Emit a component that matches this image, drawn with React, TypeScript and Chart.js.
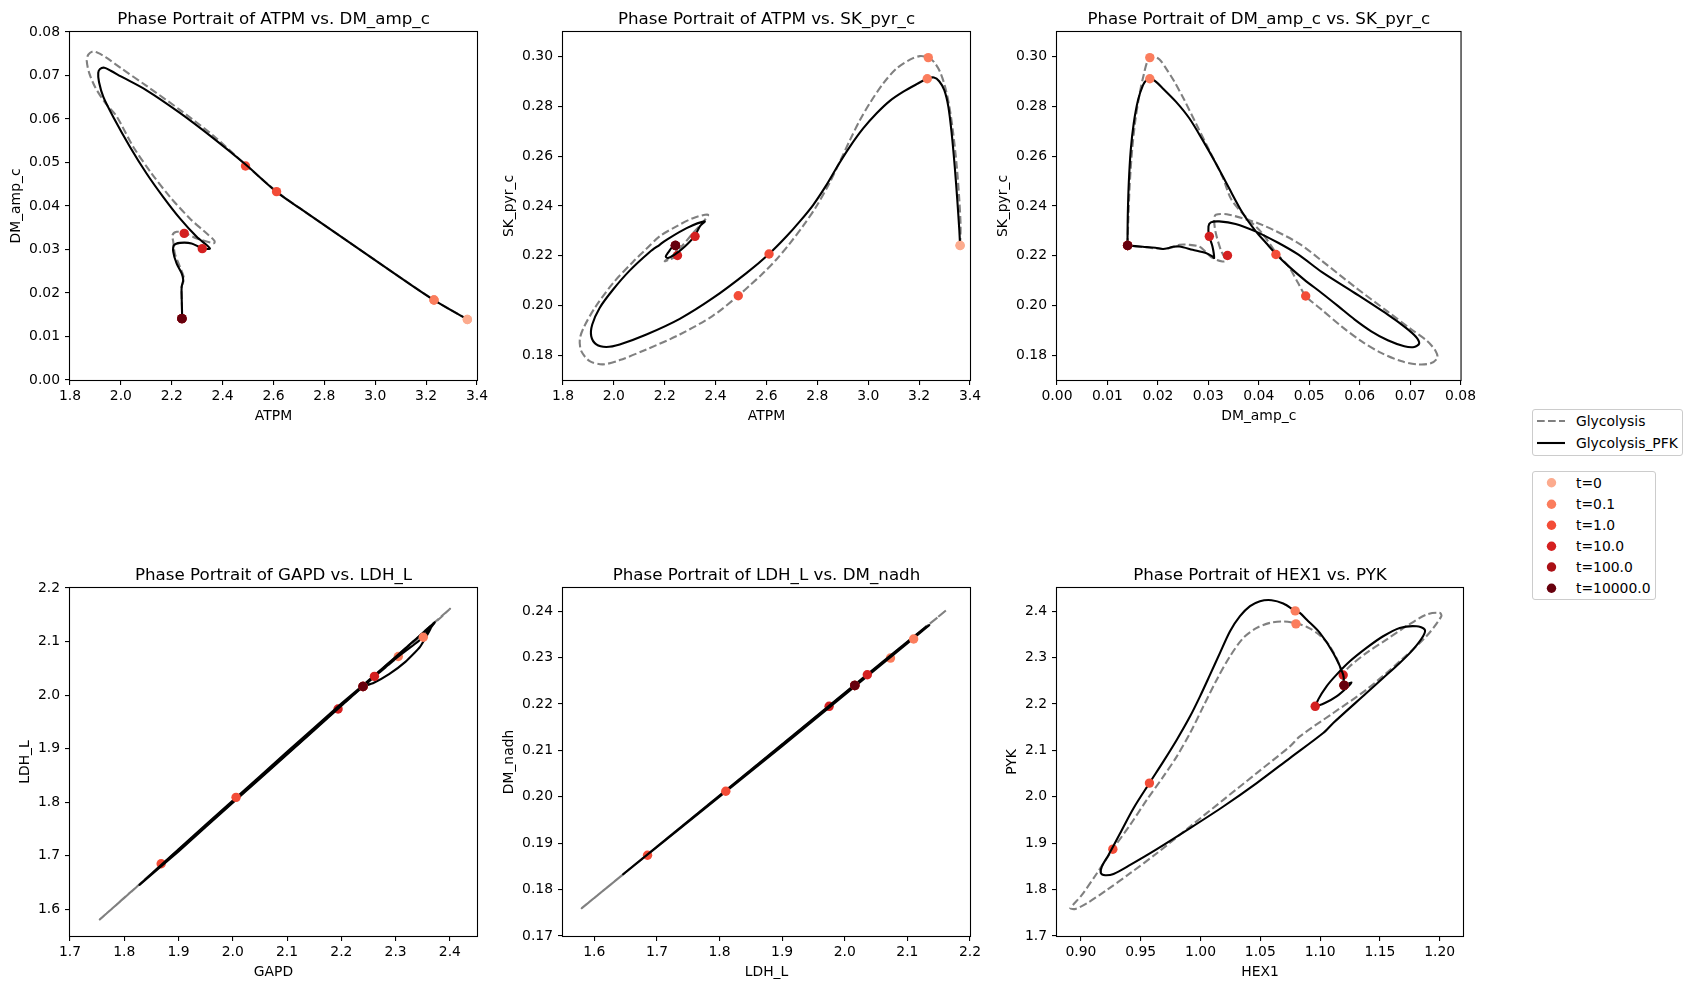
import React, { useEffect, useRef } from "react";
import { Chart, registerables } from "chart.js";

Chart.register(...registerables);

type Pt = [number, number];

const FONT = "'DejaVu Sans', 'Liberation Sans', Arial, sans-serif";

// ---------- shared legend data ----------
const timeLabels = ["t=0", "t=0.1", "t=1.0", "t=10.0", "t=100.0", "t=10000.0"];
const timeColors = ["#fcab8e", "#fb7d5d", "#f34c37", "#d42020", "#aa1016", "#67000d"];
const modelLabels = ["Glycolysis", "Glycolysis_PFK"];

// ---------- Panel 1 : ATPM vs DM_amp_c ----------
const p1Gly: Pt[] = [
  [3.362, 0.01393], [3.231, 0.01837], [3.096, 0.02366], [2.965, 0.02894], [2.834, 0.03422],
  [2.703, 0.0395], [2.612, 0.04335], [2.49, 0.0495], [2.363, 0.0562], [2.232, 0.0621],
  [2.101, 0.0676], [2.0, 0.0717], [1.94, 0.0742], [1.91, 0.0752], [1.89, 0.07556],
  [1.872, 0.0748], [1.866, 0.0733], [1.876, 0.0705], [1.9, 0.0672], [1.94, 0.0636],
  [1.983, 0.06063], [2.049, 0.05358], [2.121, 0.04747], [2.193, 0.0421], [2.271, 0.03714],
  [2.33, 0.03406], [2.368, 0.032], [2.366, 0.03145], [2.298, 0.03254], [2.249, 0.03383],
  [2.219, 0.03406], [2.203, 0.0333], [2.206, 0.03176], [2.212, 0.0291], [2.232, 0.026],
  [2.248, 0.02336], [2.239, 0.02143], [2.239, 0.01913], [2.24, 0.01683], [2.241, 0.01417],
];
const p1Pfk: Pt[] = [
  [3.362, 0.01393], [3.231, 0.01837], [3.096, 0.02366], [2.965, 0.02894], [2.834, 0.03422],
  [2.703, 0.0395], [2.612, 0.04325], [2.487, 0.0497], [2.363, 0.0556], [2.232, 0.0614],
  [2.101, 0.0666], [2.0, 0.0698], [1.96, 0.0711], [1.935, 0.0718], [1.918, 0.0715],
  [1.911, 0.0706], [1.914, 0.0685], [1.931, 0.06507], [1.97, 0.06047], [2.036, 0.05358],
  [2.101, 0.04747], [2.166, 0.0421], [2.232, 0.03714], [2.298, 0.03291], [2.35, 0.03025],
  [2.32, 0.03025], [2.278, 0.0314], [2.232, 0.03153], [2.209, 0.031], [2.206, 0.02947],
  [2.219, 0.0268], [2.239, 0.0245], [2.245, 0.02297], [2.239, 0.02143], [2.239, 0.01913],
  [2.24, 0.01683], [2.241, 0.01417],
];
const p1GlyDots: Pt[] = [[3.362, 0.0139], [3.231, 0.0184], [2.49, 0.0492], [2.249, 0.0337], [2.24, 0.0141], [2.24, 0.0141]];
const p1PfkDots: Pt[] = [[3.362, 0.0139], [3.231, 0.0184], [2.612, 0.0433], [2.32, 0.0302], [2.24, 0.0141], [2.24, 0.0141]];
const p1XTicks = [1.8, 2.0, 2.2, 2.4, 2.6, 2.8, 3.0, 3.2, 3.4];
const p1YTicks = [0, 0.01, 0.02, 0.03, 0.04, 0.05, 0.06, 0.07, 0.08];

// ---------- Panel 2 : ATPM vs SK_pyr_c ----------
const p2Gly: Pt[] = [
  [3.361, 0.2241], [3.363, 0.2318], [3.358, 0.2425], [3.348, 0.2559], [3.334, 0.2692],
  [3.319, 0.2799], [3.302, 0.288], [3.282, 0.294], [3.258, 0.298], [3.236, 0.2997],
  [3.203, 0.3003], [3.164, 0.2989], [3.111, 0.2953], [3.059, 0.2893], [3.007, 0.2815],
  [2.967, 0.2745], [2.928, 0.2665], [2.889, 0.258], [2.849, 0.2495], [2.797, 0.24],
  [2.744, 0.232], [2.692, 0.225], [2.639, 0.2185], [2.587, 0.213], [2.534, 0.208],
  [2.489, 0.2039], [2.39, 0.1959], [2.259, 0.1883], [2.128, 0.1823], [2.023, 0.178],
  [1.957, 0.1763], [1.905, 0.1776], [1.872, 0.1816], [1.866, 0.1863], [1.881, 0.191],
  [1.925, 0.199], [1.997, 0.209], [2.075, 0.2175], [2.128, 0.2228], [2.18, 0.2278],
  [2.246, 0.2318], [2.311, 0.2351], [2.37, 0.2365], [2.35, 0.2335], [2.311, 0.2291],
  [2.266, 0.2237], [2.23, 0.22], [2.2, 0.2178], [2.215, 0.2183], [2.25, 0.2201],
  [2.246, 0.2225], [2.242, 0.2241],
];
const p2Pfk: Pt[] = [
  [3.361, 0.2241], [3.358, 0.2304], [3.35, 0.2425], [3.34, 0.2559], [3.328, 0.2692],
  [3.315, 0.2799], [3.299, 0.2866], [3.279, 0.2902], [3.258, 0.2917], [3.232, 0.2912],
  [3.19, 0.289], [3.138, 0.286], [3.085, 0.2823], [3.033, 0.2773], [2.98, 0.2712],
  [2.928, 0.2639], [2.882, 0.2565], [2.836, 0.2485], [2.784, 0.2405], [2.731, 0.2338],
  [2.679, 0.2278], [2.61, 0.2207], [2.521, 0.213], [2.39, 0.203], [2.259, 0.1946],
  [2.128, 0.1883], [2.023, 0.1843], [1.97, 0.1833], [1.931, 0.1843], [1.911, 0.1876],
  [1.915, 0.1923], [1.944, 0.199], [1.997, 0.2064], [2.062, 0.214], [2.141, 0.2215],
  [2.18, 0.2244], [2.207, 0.2264], [2.286, 0.2311], [2.357, 0.2338], [2.338, 0.2318],
  [2.318, 0.228], [2.279, 0.2237], [2.239, 0.2204], [2.213, 0.2191], [2.204, 0.2196],
  [2.215, 0.2215], [2.23, 0.2235], [2.242, 0.2241],
];
const p2GlyDots: Pt[] = [[3.361, 0.2241], [3.236, 0.2997], [2.489, 0.2039], [2.25, 0.2201], [2.242, 0.2241], [2.242, 0.2241]];
const p2PfkDots: Pt[] = [[3.361, 0.2241], [3.232, 0.2912], [2.61, 0.2207], [2.319, 0.2278], [2.242, 0.2241], [2.242, 0.2241]];
const p2XTicks = [1.8, 2.0, 2.2, 2.4, 2.6, 2.8, 3.0, 3.2, 3.4];
const p2YTicks = [0.18, 0.2, 0.22, 0.24, 0.26, 0.28, 0.3];

// ---------- Panel 3 : DM_amp_c vs SK_pyr_c ----------
const p3Gly: Pt[] = [
  [0.01397, 0.2241], [0.01416, 0.2358], [0.01443, 0.2492], [0.01489, 0.2625], [0.01554, 0.2746],
  [0.01639, 0.2853], [0.01725, 0.2933], [0.01803, 0.2987], [0.01902, 0.3003], [0.02033, 0.2989],
  [0.02164, 0.2953], [0.02328, 0.29], [0.02525, 0.2826], [0.02754, 0.2732], [0.03016, 0.2625],
  [0.03279, 0.2518], [0.0346, 0.2425], [0.0375, 0.2355], [0.04066, 0.2291], [0.0435, 0.221],
  [0.0459, 0.2157], [0.0478, 0.209], [0.0493, 0.2038], [0.05246, 0.1983], [0.05639, 0.1916],
  [0.06033, 0.1856], [0.06426, 0.1809], [0.0682, 0.1776], [0.07148, 0.1763], [0.0741, 0.1767],
  [0.07541, 0.1789], [0.07508, 0.1816], [0.07344, 0.1856], [0.07016, 0.1905], [0.06557, 0.1975],
  [0.05902, 0.2075], [0.05246, 0.218], [0.0479, 0.225], [0.04066, 0.2324], [0.0341, 0.2365],
  [0.03148, 0.2365], [0.03115, 0.2344], [0.03148, 0.2291], [0.03246, 0.2224], [0.03344, 0.218],
  [0.03279, 0.2177], [0.03082, 0.2191], [0.0295, 0.2215], [0.0282, 0.2237], [0.0262, 0.2244],
  [0.02427, 0.2244], [0.0225, 0.2232], [0.02098, 0.2227], [0.01836, 0.2232], [0.016, 0.2237],
  [0.01397, 0.2241],
];
const p3Pfk: Pt[] = [
  [0.01397, 0.2241], [0.01403, 0.2358], [0.01423, 0.2492], [0.01462, 0.2625], [0.01521, 0.2732],
  [0.01607, 0.2826], [0.01705, 0.2886], [0.01784, 0.2909], [0.01836, 0.2912], [0.01934, 0.2904],
  [0.02098, 0.2873], [0.02361, 0.2819], [0.02623, 0.2753], [0.02885, 0.2666], [0.03148, 0.2572],
  [0.0341, 0.2472], [0.03672, 0.2375], [0.03934, 0.23], [0.0415, 0.225], [0.04335, 0.2208],
  [0.046, 0.2156], [0.049, 0.2104], [0.05246, 0.205], [0.05574, 0.1997], [0.05902, 0.1943],
  [0.0623, 0.1896], [0.06557, 0.186], [0.06885, 0.1836], [0.07082, 0.1833], [0.0718, 0.1847],
  [0.07115, 0.1874], [0.06918, 0.191], [0.06557, 0.1963], [0.05902, 0.205], [0.05246, 0.2135],
  [0.04787, 0.2204], [0.04393, 0.2251], [0.03934, 0.2298], [0.03541, 0.2328], [0.03213, 0.2338],
  [0.0305, 0.2334], [0.03003, 0.2318], [0.03016, 0.228], [0.03082, 0.2237], [0.03115, 0.2191],
  [0.03082, 0.2197], [0.02951, 0.2211], [0.02689, 0.2224], [0.02427, 0.2237], [0.023, 0.2236],
  [0.022, 0.223], [0.021, 0.2227], [0.0195, 0.2232], [0.017, 0.2236], [0.01397, 0.2241],
];
const p3GlyDots: Pt[] = [[0.014, 0.2241], [0.0184, 0.2997], [0.0493, 0.2038], [0.0338, 0.2201], [0.014, 0.2241], [0.014, 0.2241]];
const p3PfkDots: Pt[] = [[0.014, 0.2241], [0.0184, 0.2912], [0.0434, 0.2205], [0.0302, 0.2278], [0.014, 0.2241], [0.014, 0.2241]];
const p3XTicks = [0, 0.01, 0.02, 0.03, 0.04, 0.05, 0.06, 0.07, 0.08];
const p3YTicks = [0.18, 0.2, 0.22, 0.24, 0.26, 0.28, 0.3];

// ---------- Panel 4 : GAPD vs LDH_L ----------
const p4Gly: Pt[] = [
  [2.24, 2.016], [2.305, 2.072], [2.4, 2.161], [2.1, 1.891], [1.755, 1.581], [2.0, 1.8], [2.24, 2.016],
];
const p4Pfk: Pt[] = [
  [2.24, 2.016], [2.3, 2.068], [2.351, 2.108], [2.372, 2.136], [2.3, 2.07], [2.2, 1.98],
  [2.1, 1.889], [2.0, 1.799], [1.9, 1.708], [1.828, 1.6455], [1.9, 1.712], [2.0, 1.803],
  [2.1, 1.894], [2.2, 1.984], [2.261, 2.037], [2.33, 2.098], [2.366, 2.128], [2.345, 2.09],
  [2.318, 2.062], [2.288, 2.039], [2.26, 2.023], [2.24, 2.016],
];
const p4GlyDots: Pt[] = [[2.24, 2.016], [2.305, 2.072], [1.868, 1.685], [2.194, 1.974], [2.24, 2.016], [2.24, 2.016]];
const p4PfkDots: Pt[] = [[2.24, 2.016], [2.351, 2.108], [2.006, 1.809], [2.261, 2.035], [2.24, 2.016], [2.24, 2.016]];
const p4XTicks = [1.7, 1.8, 1.9, 2.0, 2.1, 2.2, 2.3, 2.4];
const p4YTicks = [1.6, 1.7, 1.8, 1.9, 2.0, 2.1, 2.2];

// ---------- Panel 5 : LDH_L vs DM_nadh ----------
const p5Gly: Pt[] = [
  [2.016, 0.224], [2.162, 0.2402], [1.58, 0.176], [1.975, 0.2195], [2.016, 0.224],
];
const p5Pfk: Pt[] = [
  [2.016, 0.224], [2.073, 0.2301], [2.11, 0.2342], [2.135, 0.237], [1.9, 0.2109], [1.646, 0.1833],
  [1.9, 0.2113], [2.036, 0.2264], [2.13, 0.2367], [2.05, 0.2277], [2.016, 0.224],
];
const p5GlyDots: Pt[] = [[2.016, 0.224], [2.073, 0.2299], [1.685, 0.1874], [1.975, 0.2195], [2.016, 0.224], [2.016, 0.224]];
const p5PfkDots: Pt[] = [[2.016, 0.224], [2.11, 0.234], [1.81, 0.2012], [2.036, 0.2263], [2.016, 0.224], [2.016, 0.224]];
const p5XTicks = [1.6, 1.7, 1.8, 1.9, 2.0, 2.1, 2.2];
const p5YTicks = [0.17, 0.18, 0.19, 0.2, 0.21, 0.22, 0.23, 0.24];

// ---------- Panel 6 : HEX1 vs PYK ----------
const p6Gly: Pt[] = [
  [1.1201, 2.2402], [1.116, 2.285], [1.108, 2.325], [1.099, 2.35], [1.089, 2.366], [1.0798, 2.374],
  [1.0692, 2.3777], [1.0581, 2.3748], [1.047, 2.364], [1.0358, 2.3424], [1.0247, 2.3029],
  [1.0136, 2.2525], [1.0024, 2.195], [0.9913, 2.1374], [0.9802, 2.0871], [0.969, 2.0439],
  [0.9551, 1.9935], [0.9412, 1.9396], [0.9267, 1.8871], [0.9134, 1.8353], [0.9008, 1.7885],
  [0.8933, 1.7669], [0.8911, 1.7597], [0.8953, 1.7583], [0.905, 1.7705], [0.9217, 1.7993],
  [0.9412, 1.8353], [0.9635, 1.8784], [0.9913, 1.936], [1.0191, 1.9935], [1.047, 2.0511],
  [1.0748, 2.1086], [1.0831, 2.1302], [1.111, 2.1806], [1.1388, 2.231], [1.1666, 2.292],
  [1.1889, 2.346], [1.2014, 2.389], [1.2, 2.3964], [1.1889, 2.3928], [1.1722, 2.3676],
  [1.1555, 2.3388], [1.1388, 2.3101], [1.1249, 2.2813], [1.1193, 2.2633], [1.1201, 2.2402],
];
const p6Pfk: Pt[] = [
  [1.1201, 2.2402], [1.1193, 2.2633], [1.111, 2.3101], [1.0998, 2.3532], [1.0887, 2.382],
  [1.0831, 2.3964], [1.0792, 2.4007], [1.0692, 2.4165], [1.0595, 2.4237], [1.0497, 2.4216],
  [1.0414, 2.4108], [1.033, 2.3892], [1.0247, 2.3568], [1.0163, 2.3101], [1.008, 2.2633],
  [0.9996, 2.2165], [0.9913, 2.1734], [0.9802, 2.123], [0.969, 2.0763], [0.9573, 2.0295],
  [0.944, 1.9755], [0.9328, 1.9216], [0.9231, 1.8748], [0.9175, 1.8496], [0.9167, 1.8353],
  [0.9203, 1.8309], [0.9273, 1.8338], [0.9412, 1.8532], [0.9635, 1.8871], [0.9913, 1.9324],
  [1.0191, 1.9791], [1.047, 2.0295], [1.0748, 2.0835], [1.1026, 2.1374], [1.111, 2.159],
  [1.1388, 2.2237], [1.1527, 2.2561], [1.1666, 2.2885], [1.1777, 2.3173], [1.1861, 2.346],
  [1.1875, 2.3604], [1.1806, 2.3676], [1.1666, 2.364], [1.1527, 2.346], [1.1388, 2.3209],
  [1.1249, 2.292], [1.1138, 2.2633], [1.1054, 2.2381], [1.0984, 2.2094], [1.097, 2.1964],
  [1.104, 2.2021], [1.1138, 2.2165], [1.1221, 2.2345], [1.1263, 2.2467], [1.1201, 2.2402],
];
const p6GlyDots: Pt[] = [[1.1201, 2.2402], [1.0798, 2.3727], [0.9267, 1.8871], [1.1193, 2.2626], [1.1201, 2.2402], [1.1201, 2.2402]];
const p6PfkDots: Pt[] = [[1.1201, 2.2402], [1.0792, 2.4007], [0.9573, 2.0295], [1.0959, 2.195], [1.1201, 2.2402], [1.1201, 2.2402]];
const p6XTicks = [0.9, 0.95, 1.0, 1.05, 1.1, 1.15, 1.2];
const p6YTicks = [1.7, 1.8, 1.9, 2.0, 2.1, 2.2, 2.3, 2.4];

// ---------- layout ----------
const AXIS_W = 75;
const TOP_H = 32;
const BOTTOM_H = 48;
const RIGHT_PAD = 16;

interface PanelSpec {
  title: string; xLabel: string; yLabel: string;
  xMin: number; xMax: number; yMin: number; yMax: number;
  xTicks: number[]; yTicks: number[]; xDec: number; yDec: number;
  gly: Pt[]; pfk: Pt[]; glyDots: Pt[]; pfkDots: Pt[];
  tension: number;
  left: number; top: number; width: number; height: number; yTitleGap: number;
}

const panels: PanelSpec[] = [
  { title: "Phase Portrait of ATPM vs. DM_amp_c", xLabel: "ATPM", yLabel: "DM_amp_c",
    xMin: 1.8, xMax: 3.4, yMin: 0, yMax: 0.08, xTicks: p1XTicks, yTicks: p1YTicks, xDec: 1, yDec: 2,
    gly: p1Gly, pfk: p1Pfk, glyDots: p1GlyDots, pfkDots: p1PfkDots, tension: 0.3,
    left: 70, top: 32, width: 407, height: 348, yTitleGap: 53.5 },
  { title: "Phase Portrait of ATPM vs. SK_pyr_c", xLabel: "ATPM", yLabel: "SK_pyr_c",
    xMin: 1.8, xMax: 3.4, yMin: 0.17, yMax: 0.31, xTicks: p2XTicks, yTicks: p2YTicks, xDec: 1, yDec: 2,
    gly: p2Gly, pfk: p2Pfk, glyDots: p2GlyDots, pfkDots: p2PfkDots, tension: 0.3,
    left: 563, top: 32, width: 407, height: 348, yTitleGap: 54 },
  { title: "Phase Portrait of DM_amp_c vs. SK_pyr_c", xLabel: "DM_amp_c", yLabel: "SK_pyr_c",
    xMin: 0, xMax: 0.08, yMin: 0.17, yMax: 0.31, xTicks: p3XTicks, yTicks: p3YTicks, xDec: 2, yDec: 2,
    gly: p3Gly, pfk: p3Pfk, glyDots: p3GlyDots, pfkDots: p3PfkDots, tension: 0.3,
    left: 1057, top: 32, width: 406, height: 348, yTitleGap: 54 },
  { title: "Phase Portrait of GAPD vs. LDH_L", xLabel: "GAPD", yLabel: "LDH_L",
    xMin: 1.7, xMax: 2.45, yMin: 1.55, yMax: 2.2, xTicks: p4XTicks, yTicks: p4YTicks, xDec: 1, yDec: 1,
    gly: p4Gly, pfk: p4Pfk, glyDots: p4GlyDots, pfkDots: p4PfkDots, tension: 0.15,
    left: 70, top: 588, width: 407, height: 348, yTitleGap: 45 },
  { title: "Phase Portrait of LDH_L vs. DM_nadh", xLabel: "LDH_L", yLabel: "DM_nadh",
    xMin: 1.55, xMax: 2.2, yMin: 0.17, yMax: 0.245, xTicks: p5XTicks, yTicks: p5YTicks, xDec: 1, yDec: 2,
    gly: p5Gly, pfk: p5Pfk, glyDots: p5GlyDots, pfkDots: p5PfkDots, tension: 0.1,
    left: 563, top: 588, width: 407, height: 348, yTitleGap: 54 },
  { title: "Phase Portrait of HEX1 vs. PYK", xLabel: "HEX1", yLabel: "PYK",
    xMin: 0.88, xMax: 1.2195, yMin: 1.7, yMax: 2.45, xTicks: p6XTicks, yTicks: p6YTicks, xDec: 2, yDec: 1,
    gly: p6Gly, pfk: p6Pfk, glyDots: p6GlyDots, pfkDots: p6PfkDots, tension: 0.3,
    left: 1057, top: 588, width: 406, height: 348, yTitleGap: 45 },
];

const toXY = (pts: Pt[]) => pts.map(([x, y]) => ({ x, y }));

function makeScale(min: number, max: number, ticks: number[], dec: number, label: string, isX: boolean, titleGap: number) {
  return {
    type: "linear",
    position: isX ? "bottom" : "left",
    min,
    max,
    afterBuildTicks: (s: any) => {
      s.ticks = ticks.map((v) => ({ value: v }));
    },
    afterFit: (s: any) => {
      if (isX) s.height = BOTTOM_H;
      else s.width = AXIS_W;
    },
    grid: {
      display: true,
      drawOnChartArea: false,
      drawTicks: true,
      tickLength: 5,
      tickWidth: 1.1,
      tickColor: "#000",
      color: "#000",
      lineWidth: 1.1,
    },
    border: { display: false },
    ticks: {
      autoSkip: false,
      maxRotation: 0,
      minRotation: 0,
      padding: isX ? 3 : 5,
      color: "#000",
      font: { family: FONT, size: 13.9 },
      callback: (v: any) => Number(v).toFixed(dec),
    },
    title: {
      display: true,
      text: label,
      color: "#000",
      font: { family: FONT, size: 13.9 },
      padding: isX ? { top: 0, bottom: 2.9 } : { top: AXIS_W - titleGap - 8.34, bottom: 0 },
    },
  };
}

function Panel({ spec }: { spec: PanelSpec }) {
  const ref = useRef<HTMLCanvasElement | null>(null);
  const cw = spec.width + AXIS_W + RIGHT_PAD;
  const ch = spec.height + TOP_H + BOTTOM_H;

  useEffect(() => {
    const canvas = ref.current;
    if (!canvas) return;
    const decor = {
      id: "panelDecor",
      afterDraw(chart: any) {
        const { ctx, chartArea } = chart;
        ctx.save();
        ctx.strokeStyle = "#000";
        ctx.lineWidth = 1.1;
        ctx.strokeRect(
          chartArea.left - 0.5,
          chartArea.top - 0.5,
          chartArea.right - chartArea.left + 1,
          chartArea.bottom - chartArea.top + 1
        );
        ctx.fillStyle = "#000";
        ctx.font = `16.7px ${FONT}`;
        ctx.textAlign = "center";
        ctx.textBaseline = "alphabetic";
        ctx.fillText(spec.title, (chartArea.left + chartArea.right) / 2, chartArea.top - 8);
        ctx.restore();
      },
    };
    const chart = new Chart(canvas, {
      type: "scatter",
      data: {
        datasets: [
          {
            label: modelLabels[0],
            data: toXY(spec.gly),
            showLine: true,
            borderColor: "#808080",
            backgroundColor: "#808080",
            borderWidth: 2.1,
            borderDash: [7.7, 3.3],
            borderJoinStyle: "round",
            pointRadius: 0,
            pointHoverRadius: 0,
            tension: spec.tension,
            order: 4,
          },
          {
            label: modelLabels[0] + " points",
            data: toXY(spec.glyDots),
            showLine: false,
            pointRadius: 4.7,
            pointHoverRadius: 4.7,
            pointBackgroundColor: timeColors,
            pointBorderColor: timeColors,
            pointBorderWidth: 0,
            order: 3,
          },
          {
            label: modelLabels[1],
            data: toXY(spec.pfk),
            showLine: true,
            borderColor: "#000000",
            backgroundColor: "#000000",
            borderWidth: 2.1,
            borderJoinStyle: "round",
            pointRadius: 0,
            pointHoverRadius: 0,
            tension: spec.tension,
            order: 2,
          },
          {
            label: modelLabels[1] + " points",
            data: toXY(spec.pfkDots),
            showLine: false,
            pointRadius: 4.7,
            pointHoverRadius: 4.7,
            pointBackgroundColor: timeColors,
            pointBorderColor: timeColors,
            pointBorderWidth: 0,
            order: 1,
          },
        ],
      } as any,
      options: {
        animation: false,
        responsive: false,
        maintainAspectRatio: false,
        devicePixelRatio: 1,
        events: [],
        layout: { padding: { top: TOP_H, right: RIGHT_PAD, left: 0, bottom: 0 } },
        plugins: {
          legend: { display: false },
          tooltip: { enabled: false },
          title: { display: false },
        },
        scales: {
          x: makeScale(spec.xMin, spec.xMax, spec.xTicks, spec.xDec, spec.xLabel, true, 0),
          y: makeScale(spec.yMin, spec.yMax, spec.yTicks, spec.yDec, spec.yLabel, false, spec.yTitleGap),
        },
      } as any,
      plugins: [decor],
    });
    return () => chart.destroy();
  }, [spec]);

  return (
    <canvas
      ref={ref}
      width={cw}
      height={ch}
      style={{
        position: "absolute",
        left: spec.left - AXIS_W,
        top: spec.top - TOP_H,
        width: cw,
        height: ch,
      }}
    />
  );
}

function Legend() {
  const textStyle = (left: number, cy: number): React.CSSProperties => ({
    position: "absolute",
    left,
    top: cy - 8,
    lineHeight: "16px",
    fontSize: 13.9,
    fontFamily: FONT,
    color: "#000",
    whiteSpace: "nowrap",
  });
  const boxStyle = (left: number, top: number, w: number, h: number): React.CSSProperties => ({
    position: "absolute",
    left,
    top,
    width: w,
    height: h,
    border: "1px solid #cccccc",
    borderRadius: 3,
    boxSizing: "border-box",
    background: "rgba(255,255,255,0.8)",
  });
  const modelRows = [421, 443];
  const timeRows = [482.7, 504.3, 525.3, 546.2, 567, 588.3];
  return (
    <>
      <div style={boxStyle(1532, 409, 151, 47)} />
      <div style={boxStyle(1532, 471, 124, 129)} />
      <svg
        width={172}
        height={210}
        style={{ position: "absolute", left: 1520, top: 400, overflow: "visible" }}
      >
        <line x1={17} x2={45} y1={modelRows[0] - 400} y2={modelRows[0] - 400} stroke="#808080" strokeWidth={2.1} strokeDasharray="7.7 3.3" />
        <line x1={17} x2={45} y1={modelRows[1] - 400} y2={modelRows[1] - 400} stroke="#000" strokeWidth={2.1} />
        {timeRows.map((cy, i) => (
          <circle key={i} cx={31.5} cy={cy - 400} r={4.7} fill={timeColors[i]} />
        ))}
      </svg>
      {modelLabels.map((l, i) => (
        <div key={l} style={textStyle(1576, modelRows[i])}>{l}</div>
      ))}
      {timeLabels.map((l, i) => (
        <div key={l} style={textStyle(1576, timeRows[i])}>{l}</div>
      ))}
    </>
  );
}

export default function App() {
  return (
    <div
      style={{
        position: "absolute",
        left: 0,
        top: 0,
        width: 1692,
        height: 989,
        background: "#ffffff",
        overflow: "hidden",
      }}
    >
      {panels.map((p, i) => (
        <Panel key={i} spec={p} />
      ))}
      <Legend />
    </div>
  );
}
